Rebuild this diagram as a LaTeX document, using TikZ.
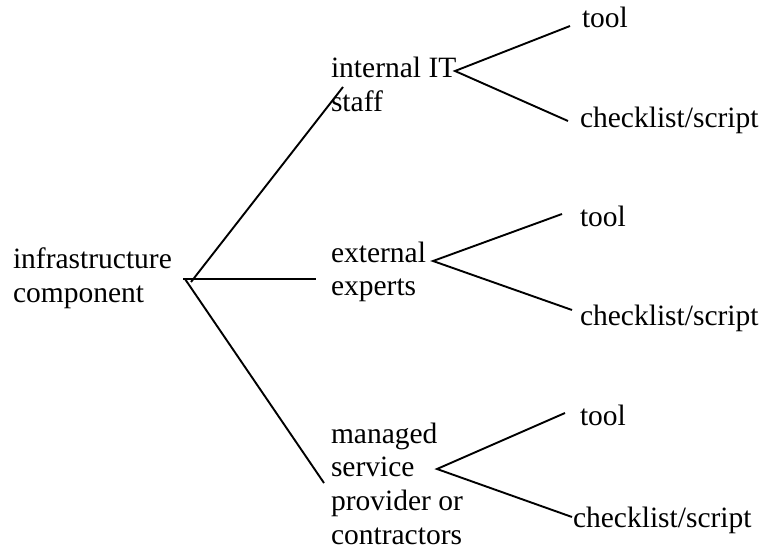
\documentclass[tikz,border=0pt]{standalone}
\usepackage{fontspec}
\setmainfont{Liberation Serif}
\begin{document}
\begin{tikzpicture}[x=1pt,y=-1pt,
  lbl/.style={anchor=base west,inner sep=0pt,outer sep=0pt,font=\fontsize{29.5}{33.8}\selectfont},
  conn/.style={line width=1.9pt}]
\useasboundingbox (0,0) rectangle (763,548);
\newcommand{\lines}[1]{\begin{tabular}[t]{@{}l@{}}#1\end{tabular}}
% labels
\node[lbl] (root) at (13,269) {\lines{infrastructure\\component}};
\node[lbl] (int) at (331,78) {\lines{internal IT\\staff}};
\node[lbl] (ext) at (331,262) {\lines{external\\experts}};
\node[lbl] (msp) at (331,443) {\lines{managed\\service\\provider or\\contractors}};
\node[lbl] (t1) at (582,28) {tool};
\node[lbl] (c1) at (580,128) {checklist/script};
\node[lbl] (t2) at (580,226) {tool};
\node[lbl] (c2) at (580,325) {checklist/script};
\node[lbl] (t3) at (580,425) {tool};
\node[lbl] (c3) at (573,527) {checklist/script};
% connector points
\coordinate (rj1) at (191,282);
\coordinate (rj2) at (183,279);
\coordinate (rj3) at (185,279);
\coordinate (intin) at (343,87);
\coordinate (extin) at (316,279);
\coordinate (mspin) at (324,483);
\coordinate (ij) at (455,71);
\coordinate (t1in) at (570,26);
\coordinate (c1in) at (568,121);
\coordinate (ej) at (433,261);
\coordinate (t2in) at (562,214);
\coordinate (c2in) at (572,310);
\coordinate (mj) at (437,469);
\coordinate (t3in) at (565,413);
\coordinate (c3in) at (572,517);
% connectors
\draw[conn] (rj1) -- (intin);
\draw[conn] (rj2) -- (extin);
\draw[conn] (rj3) -- (mspin);
\draw[conn] (t1in) -- (ij) -- (c1in);
\draw[conn] (t2in) -- (ej) -- (c2in);
\draw[conn] (t3in) -- (mj) -- (c3in);
\end{tikzpicture}
\end{document}
